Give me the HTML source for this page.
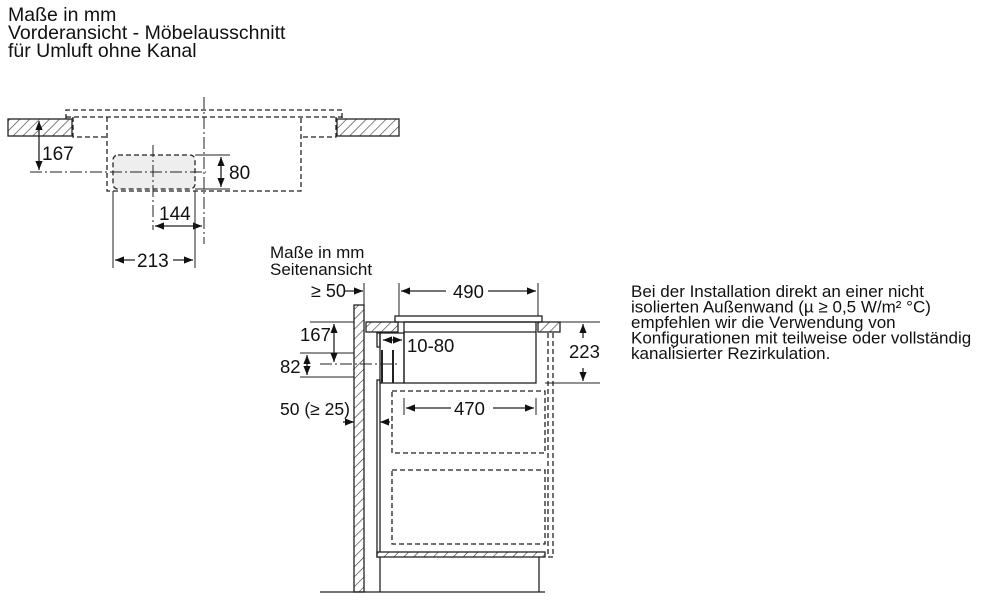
<!DOCTYPE html>
<html><head><meta charset="utf-8"><style>
html,body{margin:0;padding:0;background:#fff;}
svg{display:block;}
text{font-family:"Liberation Sans",Arial,sans-serif;fill:#111;}
</style></head><body>
<svg width="988" height="600" viewBox="0 0 988 600" xmlns="http://www.w3.org/2000/svg">
<defs>
<pattern id="h" patternUnits="userSpaceOnUse" width="7" height="7" patternTransform="rotate(45)">
<rect width="7" height="7" fill="#fff"/><line x1="0" y1="0" x2="0" y2="7" stroke="#333" stroke-width="1.2"/>
</pattern>
<marker id="a" viewBox="0 0 10 10" refX="10" refY="5" markerWidth="10" markerHeight="9" orient="auto-start-reverse" markerUnits="userSpaceOnUse">
<path d="M0,1 L10,5 L0,9 z" fill="#111"/></marker>
</defs>

<!-- titles -->
<text x="8" y="21" font-size="19.5">Maße in mm</text>
<text x="8" y="39" font-size="19.5">Vorderansicht - Möbelausschnitt</text>
<text x="8" y="57" font-size="19.5">für Umluft ohne Kanal</text>

<!-- front view -->
<g stroke="#222" fill="none" stroke-width="1.3">
<rect x="8" y="119" width="64" height="17" fill="url(#h)"/>
<rect x="337" y="119" width="62" height="17" fill="url(#h)"/>
<g stroke-dasharray="5,3">
<polyline points="66,119 66,110 342,110 342,119"/>
<line x1="66" y1="117" x2="342" y2="117"/>
<polyline points="73,117 73,137 107,137"/>
<polyline points="336,117 336,137 301,137"/>
<polyline points="107,117 107,191 301,191 301,117"/>
<rect x="113" y="155" width="82" height="34" rx="5" fill="#eee"/>
</g>
<g stroke-dasharray="12,3,2,3" stroke-width="1">
<line x1="204" y1="97" x2="204" y2="244"/>
<line x1="30" y1="172" x2="206" y2="172"/>
<line x1="153" y1="145" x2="153" y2="230"/>
</g>
<line x1="39" y1="121" x2="39" y2="170" marker-start="url(#a)" marker-end="url(#a)"/>
<line x1="195" y1="155" x2="230" y2="155" stroke-width="1"/>
<line x1="195" y1="189" x2="230" y2="189" stroke-width="1"/>
<line x1="221" y1="157" x2="221" y2="187" marker-start="url(#a)" marker-end="url(#a)"/>
<line x1="155" y1="226" x2="202" y2="226" marker-start="url(#a)" marker-end="url(#a)"/>
<line x1="113" y1="191" x2="113" y2="268" stroke-width="1"/>
<line x1="195" y1="191" x2="195" y2="268" stroke-width="1"/>
<line x1="115" y1="260" x2="135" y2="260" marker-start="url(#a)"/>
<line x1="173" y1="260" x2="193" y2="260" marker-end="url(#a)"/>
</g>
<text x="42" y="160" font-size="19">167</text>
<text x="229" y="179" font-size="19">80</text>
<text x="159" y="220" font-size="19">144</text>
<text x="137" y="267" font-size="19">213</text>

<!-- side view -->
<text x="270" y="258" font-size="17">Maße in mm</text>
<text x="270" y="275" font-size="17">Seitenansicht</text>
<g stroke="#222" fill="none" stroke-width="1.3">
<rect x="354" y="305" width="10" height="287" fill="url(#h)"/>
<line x1="320" y1="592" x2="545" y2="592"/>
<rect x="366" y="322" width="32" height="10" fill="url(#h)"/>
<rect x="538" y="322" width="22" height="10" fill="url(#h)"/>
<rect x="395" y="316" width="147" height="6"/>
<rect x="404" y="322" width="132" height="61"/>
<line x1="404" y1="332" x2="536" y2="332"/>
<rect x="380" y="333" width="24" height="50"/>
<line x1="382" y1="350" x2="382" y2="383" stroke-width="2"/>
<line x1="393" y1="350" x2="393" y2="383" stroke-width="2"/>
<rect x="377" y="333" width="3" height="14"/>
<rect x="377" y="380" width="3" height="177"/>
<rect x="377" y="552" width="168" height="5" fill="url(#h)"/>
<line x1="380" y1="557" x2="380" y2="592"/>
<line x1="539" y1="557" x2="539" y2="592"/>
<g stroke-dasharray="5,3">
<rect x="392" y="391" width="153" height="62"/>
<rect x="392" y="470" width="153" height="74"/>
<polyline points="548,333 548,557 553,557 553,333"/>
</g>
<g stroke-width="1">
<line x1="399" y1="283" x2="399" y2="316"/>
<line x1="538" y1="283" x2="538" y2="316"/>
<line x1="364" y1="283" x2="364" y2="305"/>
<line x1="545" y1="322" x2="600" y2="322"/>
<line x1="545" y1="383" x2="600" y2="383"/>
<line x1="310" y1="322" x2="354" y2="322"/>
<line x1="300" y1="353" x2="354" y2="353"/>
<line x1="300" y1="377" x2="354" y2="377"/>
<line x1="320" y1="364" x2="398" y2="364" stroke-dasharray="12,3,2,3"/>
<line x1="404" y1="398" x2="404" y2="415"/>
<line x1="536" y1="398" x2="536" y2="415"/>
</g>
<line x1="401" y1="291" x2="446" y2="291" marker-start="url(#a)"/>
<line x1="488" y1="291" x2="536" y2="291" marker-end="url(#a)"/>
<line x1="583" y1="324" x2="583" y2="338" marker-start="url(#a)"/>
<line x1="583" y1="368" x2="583" y2="381" marker-end="url(#a)"/>
<line x1="406" y1="408" x2="451" y2="408" marker-start="url(#a)"/>
<line x1="493" y1="408" x2="534" y2="408" marker-end="url(#a)"/>
<line x1="334" y1="324" x2="334" y2="362" marker-start="url(#a)" marker-end="url(#a)"/>
<line x1="307" y1="355" x2="307" y2="375" marker-start="url(#a)" marker-end="url(#a)"/>
<line x1="383" y1="340" x2="402" y2="340" marker-start="url(#a)" marker-end="url(#a)"/>
<line x1="345" y1="291" x2="363" y2="291" marker-end="url(#a)"/>
<line x1="343" y1="422" x2="354" y2="422" marker-end="url(#a)"/>
<line x1="390" y1="422" x2="380" y2="422" marker-end="url(#a)"/>
</g>
<text x="453" y="298" font-size="18.5">490</text>
<text x="569" y="358" font-size="18.5">223</text>
<text x="454" y="415" font-size="18.5">470</text>
<text x="300" y="341" font-size="18.5">167</text>
<text x="280" y="373" font-size="18.5">82</text>
<text x="407" y="352" font-size="18.5">10-80</text>
<text x="311" y="297" font-size="18">≥ 50</text>
<text x="280" y="415" font-size="17.5">50 (≥ 25)</text>

<!-- note -->
<g font-size="17">
<text x="631" y="297">Bei der Installation direkt an einer nicht</text>
<text x="631" y="312.5">isolierten Außenwand (µ ≥ 0,5 W/m² °C)</text>
<text x="631" y="328">empfehlen wir die Verwendung von</text>
<text x="631" y="343.5">Konfigurationen mit teilweise oder vollständig</text>
<text x="631" y="359">kanalisierter Rezirkulation.</text>
</g>
</svg>
</body></html>
